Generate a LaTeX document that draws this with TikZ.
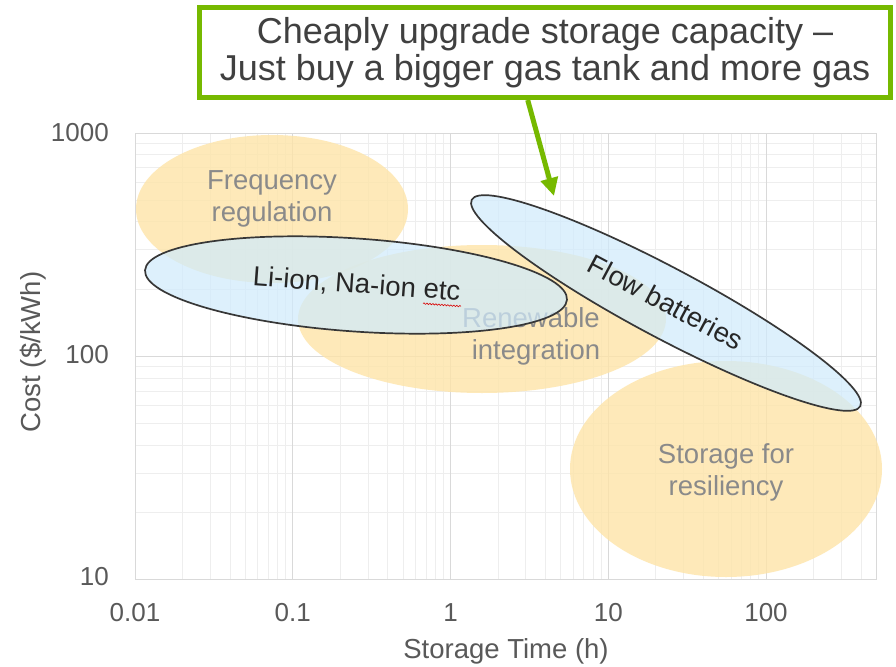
\documentclass[tikz,border=0pt]{standalone}
\usepackage{fontspec}
\setmainfont{Liberation Sans}
\usetikzlibrary{shapes.geometric,arrows.meta,decorations.pathmorphing}
\definecolor{orfill}{RGB}{254,228,168}
\definecolor{blfill}{RGB}{208,235,252}
\definecolor{labgray}{RGB}{138,138,138}
\definecolor{darktext}{RGB}{38,38,38}
\definecolor{axistext}{RGB}{89,89,89}
\definecolor{calltext}{RGB}{64,64,64}
\definecolor{nvgreen}{RGB}{118,185,0}
\definecolor{majgrid}{RGB}{217,217,217}
\definecolor{mingrid}{RGB}{238,238,238}
\definecolor{outl}{RGB}{55,55,55}
\begin{document}
\begin{tikzpicture}[x=1pt,y=-1pt,
  mingridline/.style={draw=mingrid,line width=0.8pt},
  majgridline/.style={draw=majgrid,line width=1pt},
  orblob/.style={ellipse,fill=orfill,fill opacity=0.8,draw=none,inner sep=0pt},
  blblob/.style={ellipse,fill=blfill,fill opacity=0.72,draw=outl,draw opacity=1,line width=1.7pt,inner sep=0pt},
  graylab/.style={text=labgray,font=\fontsize{27.5}{32}\selectfont,inner sep=0pt,anchor=base},
  darklab/.style={text=darktext,font=\fontsize{27.5}{32}\selectfont,inner sep=0pt,anchor=base},
  ticklab/.style={text=axistext,font=\fontsize{26}{30}\selectfont,inner sep=0pt},
  axtitle/.style={text=axistext,font=\fontsize{27.5}{32}\selectfont,inner sep=0pt,anchor=base},
  calloutbox/.style={draw=nvgreen,line width=5pt,fill=white,minimum width=691pt,minimum height=90pt,inner sep=0pt,text=calltext,align=center,font=\fontsize{36}{37}\selectfont},
  greenarrow/.style={draw=nvgreen,line width=5pt,-{Triangle[length=18pt,width=17pt]}}
]
\useasboundingbox (0,0) rectangle (896,666);
\fill[white] (0,0) rectangle (896,666);
% minor grid
\foreach \d in {-2,...,2}{
  \foreach \m in {2,...,9}{
    \pgfmathsetmacro\xx{135+157.75*(\d+2+log10(\m))}
    \pgfmathtruncatemacro\ok{\xx<876}
    \ifnum\ok=1 \draw[mingridline] (\xx,133) -- (\xx,579.6);\fi
  }
}
\foreach \d in {1,2}{
  \foreach \m in {2,...,9}{
    \pgfmathsetmacro\yy{133+223.3*(3-\d-log10(\m))}
    \draw[mingridline] (135,\yy) -- (876,\yy);
  }
}
% major grid
\foreach \k in {1,...,4}{
  \pgfmathsetmacro\xx{135+157.75*\k}
  \draw[majgridline] (\xx,133) -- (\xx,579.6);
}
\draw[majgridline] (135,356.3) -- (876,356.3);
\draw[majgridline] (135,133) rectangle (876,579.6);
% tick labels
\node[ticklab,anchor=east] (y1000) at (109,133) {1000};
\node[ticklab,anchor=east] (y100) at (109,355) {100};
\node[ticklab,anchor=east] (y10) at (109,577) {10};
\node[ticklab] (x001) at (135,613) {0.01};
\node[ticklab] (x01) at (292.75,613) {0.1};
\node[ticklab] (x1) at (450.5,613) {1};
\node[ticklab] (x10) at (608.25,613) {10};
\node[ticklab] (x100) at (766,613) {100};
\node[axtitle] (xtitle) at (506,658) {Storage Time (h)};
\node[axtitle,rotate=90] (ytitle) at (40,352) {Cost (\$/kWh)};
% orange regions
\node[orblob,minimum width=272pt,minimum height=148pt] (freqblob) at (272,209) {};
\node[orblob,minimum width=368pt,minimum height=148pt] (renblob) at (482,319) {};
\node[orblob,minimum width=312pt,minimum height=216pt] (resblob) at (726,469) {};
\node[graylab] (freqlab1) at (272,189) {Frequency};
\node[graylab] (freqlab2) at (272,221) {regulation};
\node[graylab] (renlab1) at (531,327) {Renewable};
\node[graylab] (renlab2) at (536,359) {integration};
\node[graylab] (reslab1) at (726,463) {Storage for};
\node[graylab] (reslab2) at (726,495) {resiliency};
% technology regions
\node[blblob,minimum width=423pt,minimum height=93pt,rotate=-4] (liblob) at (356,285) {};
\node[blblob,minimum width=440pt,minimum height=70pt,rotate=-28] (flowblob) at (666,303) {};
\node[darklab,rotate=-4.2] (lilab) at (356,293) {Li-ion, Na-ion etc};
\node[darklab,rotate=-28,anchor=center] (flowlab) at (666,302) {Flow batteries};
\draw[red!85!black,line width=0.6pt,decorate,decoration={snake,amplitude=0.7pt,segment length=3pt}] (423,303.5) -- (461,306.3);
% callout
\node[calloutbox] (callout) at (545,52.5) {Cheaply upgrade storage capacity --\\Just buy a bigger gas tank and more gas};
\coordinate (tip) at (554,196);
\draw[greenarrow] (callout.250) -- (tip);
\end{tikzpicture}
\end{document}
